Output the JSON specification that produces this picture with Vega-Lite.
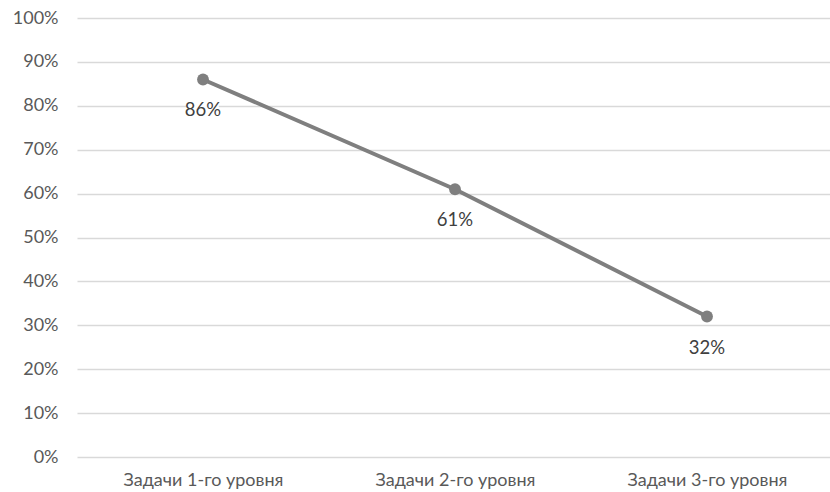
{
  "$schema": "https://vega.github.io/schema/vega-lite/v6.json",
  "width": 756,
  "height": 439,
  "autosize": {"type": "none"},
  "padding": {"left": 77, "top": 18, "right": 0, "bottom": 35},
  "background": "white",
  "config": {
    "view": {"stroke": null},
    "font": "Lato",
    "axis": {"labelFont": "Lato", "labelColor": "#595959", "labelFontSize": 18, "domain": false, "ticks": false, "labelOverlap": false}
  },
  "data": {
    "values": [
      {"level": "Задачи 1-го уровня", "value": 0.86},
      {"level": "Задачи 2-го уровня", "value": 0.61},
      {"level": "Задачи 3-го уровня", "value": 0.32}
    ]
  },
  "encoding": {
    "x": {
      "field": "level", "type": "nominal", "sort": null,
      "scale": {"paddingInner": 0, "paddingOuter": 0},
      "axis": {"title": null, "labelAngle": 0, "labelPadding": 14, "labelFontSize": 18, "grid": false}
    },
    "y": {
      "field": "value", "type": "quantitative",
      "scale": {"domain": [0, 1]},
      "axis": {"title": null, "format": ".0%", "values": [0,0.1,0.2,0.3,0.4,0.5,0.6,0.7,0.8,0.9,1], "labelPadding": 19, "grid": true, "gridColor": "#d9d9d9", "gridWidth": 1.3}
    }
  },
  "layer": [
    {"mark": {"type": "line", "color": "#7f7f7f", "strokeWidth": 4}},
    {"mark": {"type": "point", "filled": true, "color": "#7f7f7f", "size": 140, "opacity": 1}},
    {"mark": {"type": "point", "shape": "M-1,-0.5H1V0.5H-1Z", "filled": true, "color": "white", "opacity": 1, "size": 1000, "yOffset": 31}},
    {"mark": {"type": "text", "color": "#404040", "fontSize": 18.5, "dy": 31, "baseline": "middle"},
     "encoding": {"text": {"field": "value", "type": "quantitative", "format": ".0%"}}}
  ]
}
